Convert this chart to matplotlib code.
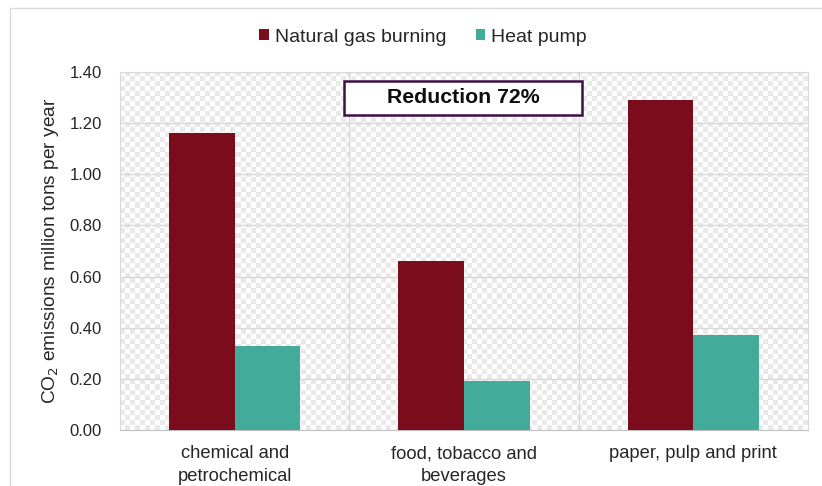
import numpy as np
import matplotlib
matplotlib.use("Agg")
import matplotlib.pyplot as plt
from matplotlib.patches import Rectangle

plt.rcParams['font.family'] = ['Liberation Sans', 'DejaVu Sans']

categories = ["chemical and\npetrochemical", "food, tobacco and\nbeverages", "paper, pulp and print"]
natural_gas = [1.16, 0.66, 1.29]
heat_pump = [0.33, 0.19, 0.37]
series_names = ["Natural gas burning", "Heat pump"]
yticks = [0.0, 0.2, 0.4, 0.6, 0.8, 1.0, 1.2, 1.4]
annotation = "Reduction 72%"

W, H = 822, 486
fig = plt.figure(figsize=(W/100, H/100), dpi=100)
ax = fig.add_axes([120/W, 1-430/H, (808-120)/W, (430-72)/H])

# outer chart border (cropped)
fig.patches.append(Rectangle((10/W, -0.1), 1.2, 1 - 8/H + 0.1, transform=fig.transFigure,
                             fill=False, edgecolor='#d9d9d9', linewidth=1.0))

n = len(categories)
x = np.arange(n)
bw = 0.287
red = '#7b0c1c'
teal = '#42ab9a'

# checkered background
ncols, nrows = int((808-120)/5), int((430-72)/5)
cb = (np.add.outer(np.arange(nrows), np.arange(ncols)) % 2)
ax.imshow(cb, cmap=matplotlib.colors.ListedColormap(['#ffffff', '#e9e9e9']),
          extent=(-0.5, n-0.5, 0, 1.4), aspect='auto', interpolation='nearest', zorder=0)

ax.bar(x - bw/2, natural_gas, bw, color=red, label=series_names[0], zorder=3)
ax.bar(x + bw/2, heat_pump, bw, color=teal, label=series_names[1], zorder=3)

ax.set_xlim(-0.5, n-0.5)
ax.set_ylim(0, 1.4)
ax.set_yticks(yticks)
ax.set_yticklabels([f"{v:.2f}" for v in yticks], fontsize=12, color='#262626')
ax.set_xticks(x)
ax.set_xticklabels(categories, fontsize=13.2, color='#262626', linespacing=1.45)
ax.tick_params(length=0)
ax.tick_params(axis='y', pad=13)
ax.tick_params(axis='x', pad=11)

for v in yticks[1:]:
    ax.axhline(v, color='#d9d9d9', linewidth=1, zorder=1)
for b in np.arange(0.5, n-0.5, 1):
    ax.axvline(b, color='#d9d9d9', linewidth=1, zorder=1)
for s in ax.spines.values():
    s.set_color('#d9d9d9')
ax.spines['bottom'].set_color('#bfbfbf')

ax.set_ylabel("CO$_2$ emissions million tons per year", fontsize=13.8, color='#262626')
ax.yaxis.set_label_coords(-(120-61)/(808-120), 0.5)

# annotation box
bx0 = (344-120)/((808-120)/n) - 0.5
bx1 = (582-120)/((808-120)/n) - 0.5
by0, by1 = 1.232, 1.365
ax.add_patch(Rectangle((bx0, by0), bx1-bx0, by1-by0, facecolor='white',
                       edgecolor='#3d0f45', linewidth=1.8, zorder=5))
ax.text((bx0+bx1)/2, (by0+by1)/2, annotation, ha='center', va='center',
        fontsize=15.3, fontweight='bold', zorder=6, color='#0d0d0d')

leg = fig.legend(loc='center', bbox_to_anchor=(423/W, 1-37/H), ncol=2, frameon=False,
                 fontsize=14, handlelength=0.5, handleheight=0.5, handletextpad=0.3,
                 columnspacing=1.5, labelcolor='#262626')

fig.savefig("out.png", dpi=100)
